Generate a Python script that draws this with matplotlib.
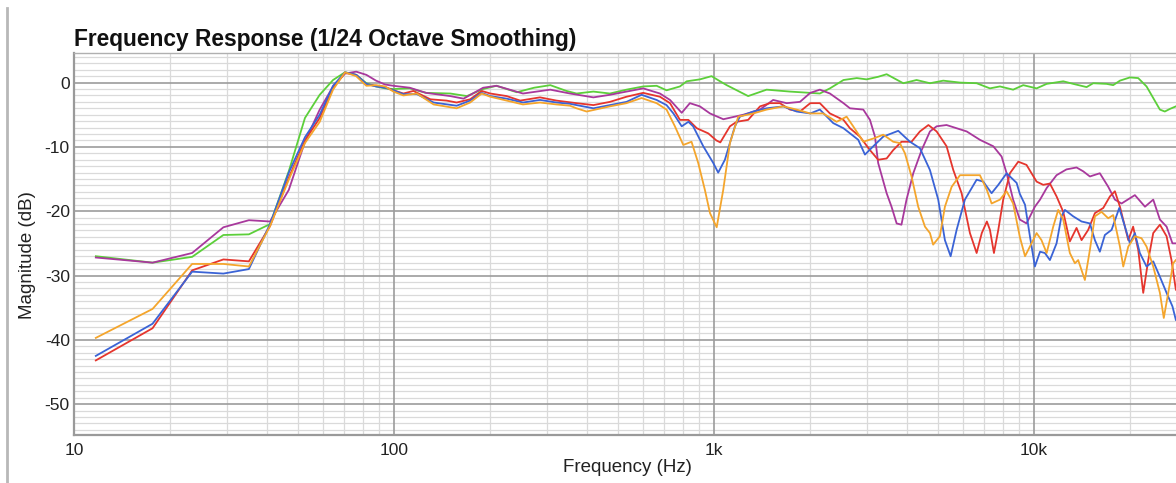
import matplotlib
matplotlib.use("Agg")
import matplotlib.pyplot as plt
from matplotlib.ticker import FixedLocator, MultipleLocator, FuncFormatter
from matplotlib.lines import Line2D

plt.rcParams['font.family'] = ['Liberation Sans', 'DejaVu Sans']
plt.rcParams['axes.unicode_minus'] = False

# ---------------- data ----------------
green_f = [11.7, 17.6, 23.4, 29.3, 35.2, 41.0, 46.9, 52.7, 58.6, 64.5, 70.3, 76.2, 82.0, 87.9, 93.8, 99.6,
           112, 126, 150, 169, 190, 209, 242, 274, 308, 346, 372, 420, 473, 533, 601, 662, 711, 783, 822,
           904, 983, 1045, 1096, 1279, 1461, 1728, 2000, 2143, 2304, 2540, 2795, 3000, 3260, 3465, 3905,
           4299, 4732, 5208, 5875, 6622, 7287, 7830, 8610, 9261, 10195, 10960, 12350, 13270, 14610, 15320,
           16870, 17690, 18570, 19950, 21180, 22490, 23600, 24760, 25650, 26600, 27770]
green_db = [-27.0, -28.0, -27.1, -23.7, -23.6, -22.0, -13.8, -5.5, -1.9, 0.4, 1.6, 1.2, -0.1, -0.6, -0.9, -1.0,
            -0.9, -1.6, -1.7, -2.1, -1.0, -0.5, -1.5, -0.8, -0.4, -1.3, -1.7, -1.4, -1.7, -1.1, -0.6, -0.5,
            -1.2, -0.6, 0.2, 0.5, 1.0, 0.2, -0.4, -2.1, -1.1, -1.4, -1.6, -1.7, -0.9, 0.4, 0.7, 0.5, 0.9,
            1.3, -0.1, 0.4, -0.1, 0.3, 0.0, -0.1, -0.9, -0.6, -1.1, -0.4, -0.9, -0.2, 0.2, -0.2, -0.7, -0.1,
            -0.2, -0.4, 0.3, 0.8, 0.7, -0.6, -2.4, -4.2, -4.5, -4.1, -3.7]

magenta_f = [11.7, 17.6, 23.4, 29.3, 35.2, 41.0, 46.9, 52.7, 58.6, 64.5, 70.3, 76.2, 82.0, 87.9, 93.8, 99.6,
             112, 126, 150, 165, 190, 209, 253, 308, 355, 420, 473, 533, 601, 678, 729, 793, 841, 904, 972,
             1070, 1235, 1393, 1531, 1687, 1857, 2000, 2143, 2304, 2540, 2661, 2929, 3073, 3186, 3260, 3465,
             3589, 3724, 3855, 3998, 4197, 4457, 4732, 4966, 5333, 5734, 6166, 6780, 7464, 7925, 8217, 8610,
             9036, 9480, 10070, 10450, 10960, 11770, 12640, 13590, 14260, 14960, 16070, 17070, 17910, 18790,
             20680, 22240, 23600, 24760, 25980, 27100, 27770]
magenta_db = [-27.2, -28.0, -26.5, -22.5, -21.4, -21.6, -16.7, -9.2, -4.2, -0.6, 1.4, 1.7, 1.2, 0.3, -0.3, -0.5,
              -0.8, -1.6, -2.1, -2.5, -0.8, -0.5, -1.7, -1.1, -1.7, -2.3, -1.9, -1.4, -0.9, -1.7, -2.7, -4.7,
              -3.2, -3.7, -4.8, -5.7, -5.0, -4.2, -2.7, -3.2, -3.0, -1.6, -1.1, -1.7, -3.2, -4.0, -4.2, -5.8,
              -8.4, -12.5, -17.2, -19.3, -21.9, -22.1, -18.2, -14.1, -10.5, -7.6, -6.8, -6.6, -7.1, -7.6, -8.9,
              -9.9, -11.5, -14.1, -18.2, -21.3, -21.9, -19.3, -18.2, -16.4, -14.4, -13.5, -13.2, -13.8, -14.6,
              -14.1, -16.2, -18.2, -18.8, -17.5, -19.3, -18.2, -21.3, -22.4, -25.0, -25.0]

red_f = [11.7, 17.6, 23.4, 29.3, 35.2, 41.0, 46.9, 52.7, 58.6, 64.5, 70.3, 76.2, 82.0, 87.9, 93.8, 99.6,
         107, 115, 130, 146, 157, 173, 188, 200, 225, 248, 286, 322, 372, 420, 473, 533, 601, 678, 729, 783,
         832, 884, 960, 1018, 1047, 1122, 1177, 1279, 1393, 1496, 1607, 1728, 1857, 2000, 2143, 2304, 2540,
         2661, 2858, 3073, 3260, 3465, 3633, 3855, 4145, 4402, 4680, 4966, 5333, 5598, 5943, 6310, 6622,
         6872, 7128, 7287, 7500, 7739, 8017, 8414, 8935, 9480, 10195, 10690, 11220, 11770, 12350, 12950,
         13590, 14090, 14780, 15510, 16470, 17280, 17910, 18570, 19720, 20420, 21180, 21960, 22770, 23600,
         24760, 25980, 26910, 27770]
red_db = [-43.2, -38.2, -29.2, -27.5, -27.8, -22.3, -14.8, -9.0, -5.5, -0.8, 1.5, 1.2, -0.3, -0.5, -0.7, -1.2,
          -1.7, -1.3, -2.6, -2.8, -3.1, -2.6, -1.3, -1.7, -2.1, -2.8, -2.3, -2.8, -3.2, -3.5, -3.0, -2.2, -1.6,
          -2.2, -3.2, -5.8, -5.8, -7.1, -7.9, -9.0, -9.3, -6.8, -6.1, -5.8, -3.7, -3.2, -3.2, -4.2, -4.5, -3.2,
          -3.2, -4.8, -5.8, -7.1, -8.4, -10.5, -12.0, -11.8, -10.5, -9.2, -9.2, -7.6, -6.6, -7.6, -9.9, -13.6,
          -17.2, -23.4, -26.5, -23.4, -21.6, -22.9, -26.5, -22.9, -18.2, -14.1, -12.3, -12.8, -15.4, -15.9,
          -15.7, -17.7, -20.1, -24.7, -22.6, -24.5, -22.9, -20.3, -19.5, -17.7, -16.9, -19.3, -24.5, -22.4,
          -26.0, -32.7, -27.6, -23.4, -22.1, -23.9, -27.6, -32.2]

blue_f = [11.7, 17.6, 23.4, 29.3, 35.2, 41.0, 46.9, 52.7, 58.6, 64.5, 70.3, 76.2, 82.0, 87.9, 93.8, 99.6,
          107, 118, 133, 157, 173, 188, 200, 225, 253, 286, 322, 355, 372, 420, 473, 533, 594, 662, 711, 747,
          793, 832, 861, 926, 995, 1031, 1082, 1163, 1205, 1327, 1461, 1647, 1813, 2000, 2143, 2359, 2540,
          2825, 2964, 3148, 3382, 3767, 4098, 4402, 4732, 5023, 5270, 5492, 5734, 6085, 6622, 6944, 7375,
          7739, 8217, 8830, 9036, 9380, 9716, 10070, 10450, 10820, 11220, 11770, 12190, 12500, 13270, 14090,
          14960, 15510, 16070, 16660, 17490, 18480, 19250, 19950, 20680, 21430, 22490, 23600, 24760, 25980,
          27100, 27770]
blue_db = [-42.5, -37.5, -29.4, -29.7, -29.0, -22.0, -14.0, -8.5, -5.0, -0.5, 1.6, 1.2, -0.2, -0.6, -0.8, -1.2,
           -1.8, -1.8, -3.1, -3.6, -2.8, -1.6, -2.1, -2.5, -3.1, -2.7, -3.1, -3.3, -3.5, -4.0, -3.5, -3.0, -1.9,
           -2.7, -3.5, -4.8, -6.8, -6.1, -6.8, -9.9, -12.5, -14.0, -12.0, -6.8, -5.3, -4.5, -4.0, -3.7, -4.5,
           -4.8, -4.2, -6.3, -7.1, -8.9, -11.2, -9.9, -8.4, -7.5, -9.2, -10.2, -13.6, -18.2, -24.5, -27.0,
           -22.9, -18.2, -15.1, -15.4, -17.2, -15.9, -14.1, -15.6, -17.3, -19.0, -23.9, -28.6, -26.3, -26.5,
           -27.6, -25.0, -20.8, -19.8, -20.8, -21.6, -21.9, -24.5, -26.3, -23.7, -22.9, -19.5, -22.4, -25.0,
           -23.4, -26.5, -28.6, -27.8, -30.2, -32.7, -34.8, -36.9]

orange_f = [11.7, 17.6, 23.4, 29.3, 35.2, 41.0, 46.9, 52.7, 58.6, 64.5, 70.3, 76.2, 82.0, 87.9, 93.8, 99.6,
            107, 118, 133, 157, 173, 188, 200, 225, 253, 286, 322, 355, 372, 400, 473, 533, 594, 662, 711, 755,
            802, 851, 893, 937, 972, 1020, 1069, 1122, 1191, 1327, 1461, 1647, 1813, 2000, 2196, 2417, 2598,
            2724, 2929, 3148, 3382, 3633, 3811, 3953, 4145, 4349, 4565, 4732, 4842, 5082, 5270, 5533, 5875,
            6310, 6780, 7128, 7375, 7830, 8217, 8610, 9036, 9380, 9716, 10195, 10560, 10960, 11490, 11910,
            12350, 12950, 13430, 13750, 14430, 14960, 15510, 16260, 17070, 17690, 18570, 19020, 19720, 20680,
            21690, 22490, 23600, 24760, 25460, 26290, 27230, 27770]
orange_db = [-39.7, -35.2, -28.2, -28.2, -28.6, -22.3, -15.1, -9.4, -6.1, -1.1, 1.6, 1.0, -0.5, -0.4, -0.6, -1.4,
             -2.0, -1.7, -3.4, -4.0, -3.1, -1.7, -2.2, -2.8, -3.4, -3.1, -3.4, -3.6, -4.0, -4.5, -3.7, -3.2,
             -2.4, -3.2, -4.2, -6.8, -9.7, -9.2, -12.5, -16.7, -20.3, -22.5, -16.7, -9.4, -5.3, -4.8, -4.2,
             -3.7, -4.2, -4.8, -4.8, -6.1, -5.3, -6.8, -9.2, -8.7, -8.1, -9.2, -9.4, -11.0, -14.6, -19.3, -22.4,
             -23.4, -25.2, -23.9, -19.3, -16.2, -14.4, -14.4, -14.4, -16.7, -18.8, -18.2, -16.9, -18.8, -24.0,
             -27.0, -25.5, -23.4, -24.5, -26.5, -22.4, -19.8, -21.3, -26.5, -28.1, -27.6, -30.7, -26.0, -20.8,
             -20.1, -21.1, -20.6, -25.5, -28.6, -25.5, -23.9, -24.2, -25.5, -28.6, -32.7, -36.6, -32.7, -28.1,
             -27.6]

series = [
    (green_f, green_db, '#5ccf3a'),
    (magenta_f, magenta_db, '#a8389c'),
    (red_f, red_db, '#e5352d'),
    (blue_f, blue_db, '#3a63d6'),
    (orange_f, orange_db, '#f4a52c'),
]

x_ticks = [10, 100, 1000, 10000]
x_tick_labels = ['10', '100', '1k', '10k']
y_ticks = [0, -10, -20, -30, -40, -50]

# ---------------- figure ----------------
W, H = 1176, 483
fig = plt.figure(figsize=(W / 100, H / 100), dpi=100)
fig.patch.set_facecolor('white')
ax = fig.add_axes([74 / W, 1 - 435 / H, (W - 74) / W, (435 - 53) / H])

for f, v, c in series:
    n = min(len(f), len(v))
    ax.plot(f[:n], v[:n], color=c, lw=1.3, solid_joinstyle='round', zorder=3)

ax.set_xscale('log')
ax.set_xlim(10, 27800)
ax.set_ylim(-54.8, 4.6)

ax.xaxis.set_major_locator(FixedLocator(x_ticks))
ax.xaxis.set_major_formatter(FuncFormatter(
    lambda val, pos: dict(zip(x_ticks, x_tick_labels)).get(int(round(val)), '')))
minor_x = [m * d for d in (10, 100, 1000, 10000) for m in range(2, 10)]
ax.xaxis.set_minor_locator(FixedLocator(minor_x))
ax.xaxis.set_minor_formatter(FuncFormatter(lambda v, p: ''))
ax.yaxis.set_major_locator(FixedLocator(y_ticks))
ax.yaxis.set_minor_locator(MultipleLocator(1))

# light minor grid everywhere, darker major lines drawn on top of it
ax.grid(which='minor', color='#dadada', lw=0.9)
ax.grid(which='major', visible=False)
ax.set_axisbelow(True)
for xv in x_ticks:
    ax.axvline(xv, color='#9c9c9c', lw=1.2, zorder=1)
for yv in y_ticks:
    ax.axhline(yv, color='#9c9c9c', lw=1.2, zorder=1)

ax.tick_params(which='both', length=0, labelsize=12.5, colors='#222222')
ax.tick_params(axis='y', pad=3)
ax.tick_params(axis='x', pad=6)

for s in ['left', 'bottom']:
    ax.spines[s].set_color('#9a9a9a')
    ax.spines[s].set_linewidth(1.6)
ax.spines['top'].set_color('#b0b0b0')
ax.spines['top'].set_linewidth(1.0)
ax.spines['right'].set_visible(False)

fig.text(74 / W, 1 - 46 / H, 'Frequency Response (1/24 Octave Smoothing)',
         fontsize=16.4, fontweight='bold', ha='left', va='baseline', color='#111111')
fig.text(28 / W, 1 - 255 / H, 'Magnitude (dB)', rotation=90, fontsize=13.5,
         ha='center', va='center', color='#222222')
fig.text(627 / W, 1 - 467 / H, 'Frequency (Hz)', fontsize=13.5,
         ha='center', va='center', color='#222222')

fig.add_artist(Line2D([7 / W, 7 / W], [0, 1 - 8 / H], transform=fig.transFigure,
                      color='#b8b8b8', lw=2))

fig.savefig('out.png', dpi=100)
